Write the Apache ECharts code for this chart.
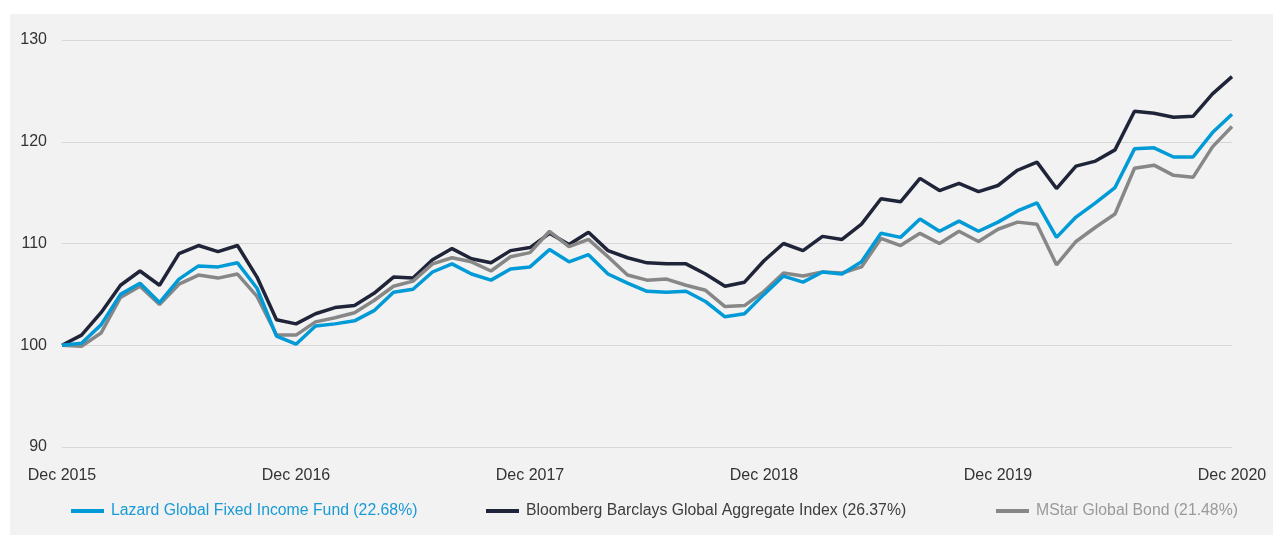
<!DOCTYPE html>
<html>
<head>
<meta charset="utf-8">
<script src="https://cdn.jsdelivr.net/npm/echarts@6/dist/echarts.min.js"></script>
<style>
html,body{margin:0;padding:0;background:#fff;}
#bg{position:absolute;left:10px;top:14px;width:1263px;height:521px;background:#f2f2f2;}
#chart{position:absolute;left:0;top:0;width:1273px;height:535px;}
</style>
</head>
<body>
<div id="bg"></div>
<div id="chart"></div>
<script>
const months = [
"Dec 2015","Jan 2016","Feb 2016","Mar 2016","Apr 2016","May 2016","Jun 2016","Jul 2016","Aug 2016","Sep 2016","Oct 2016","Nov 2016",
"Dec 2016","Jan 2017","Feb 2017","Mar 2017","Apr 2017","May 2017","Jun 2017","Jul 2017","Aug 2017","Sep 2017","Oct 2017","Nov 2017",
"Dec 2017","Jan 2018","Feb 2018","Mar 2018","Apr 2018","May 2018","Jun 2018","Jul 2018","Aug 2018","Sep 2018","Oct 2018","Nov 2018",
"Dec 2018","Jan 2019","Feb 2019","Mar 2019","Apr 2019","May 2019","Jun 2019","Jul 2019","Aug 2019","Sep 2019","Oct 2019","Nov 2019",
"Dec 2019","Jan 2020","Feb 2020","Mar 2020","Apr 2020","May 2020","Jun 2020","Jul 2020","Aug 2020","Sep 2020","Oct 2020","Nov 2020",
"Dec 2020"];

const yTicks = [90, 100, 110, 120, 130];

const lazardName = "Lazard Global Fixed Income Fund (22.68%)";
const bloombergName = "Bloomberg Barclays Global Aggregate Index (26.37%)";
const mstarName = "MStar Global Bond (21.48%)";

const lazard = [
100.0,100.2,102.0,105.0,106.1,104.2,106.5,107.8,107.7,108.1,105.6,100.9,
100.1,101.9,102.1,102.4,103.4,105.2,105.5,107.2,108.0,107.0,106.4,107.5,
107.7,109.4,108.2,108.9,107.0,106.1,105.3,105.2,105.3,104.3,102.8,103.1,
105.0,106.8,106.2,107.2,107.0,108.2,111.0,110.6,112.4,111.2,112.2,111.2,
112.1,113.2,114.0,110.6,112.6,114.0,115.5,119.3,119.4,118.5,118.5,120.9,
122.7];

const bloomberg = [
100.0,101.0,103.2,105.9,107.3,105.9,109.0,109.8,109.2,109.8,106.7,102.5,
102.1,103.1,103.7,103.9,105.1,106.7,106.6,108.4,109.5,108.5,108.1,109.3,
109.6,111.0,109.9,111.1,109.3,108.6,108.1,108.0,108.0,107.0,105.8,106.2,
108.3,110.0,109.3,110.7,110.4,111.9,114.4,114.1,116.4,115.2,115.9,115.1,
115.7,117.2,118.0,115.4,117.6,118.1,119.2,123.0,122.8,122.4,122.5,124.7,
126.4];

const mstar = [
100.0,99.9,101.2,104.7,105.8,104.0,106.0,106.9,106.6,107.0,104.8,101.0,
101.0,102.3,102.7,103.2,104.4,105.8,106.3,108.0,108.6,108.2,107.3,108.7,
109.1,111.2,109.7,110.4,108.7,106.9,106.4,106.5,105.9,105.4,103.8,103.9,
105.3,107.1,106.8,107.2,107.1,107.7,110.5,109.8,111.0,110.0,111.2,110.2,
111.4,112.1,111.9,107.9,110.2,111.6,112.9,117.4,117.7,116.7,116.5,119.5,
121.5];

const FONT = '"Liberation Sans", Arial, sans-serif';
const chart = echarts.init(document.getElementById('chart'), null, {renderer: 'canvas'});

function legendAt(name, left, color) {
  return {
    data: [name],
    left: left,
    top: 503,
    padding: 0,
    icon: 'rect',
    itemWidth: 33,
    itemHeight: 4,
    textStyle: {color: color, fontFamily: FONT, fontSize: 15.8, padding: [0, 0, 0, 2]},
    selectedMode: false
  };
}

chart.setOption({
  backgroundColor: 'transparent',
  animation: false,
  grid: {left: 62, right: 41, top: 40, bottom: 88, containLabel: false},
  legend: [
    legendAt(lazardName, 71, '#1a9ad6'),
    legendAt(bloombergName, 486, '#3d3d3d'),
    legendAt(mstarName, 996, '#9a9a9a')
  ],
  xAxis: {
    type: 'category',
    data: months,
    boundaryGap: false,
    axisLine: {show: false},
    axisTick: {show: false},
    axisLabel: {
      interval: function (i) { return i % 12 === 0; },
      color: '#333', fontFamily: FONT, fontSize: 16, margin: 21
    },
    splitLine: {show: false}
  },
  yAxis: {
    type: 'value',
    min: yTicks[0],
    max: yTicks[yTicks.length - 1],
    interval: 10,
    axisLine: {show: false},
    axisTick: {show: false},
    axisLabel: {color: '#333', fontFamily: FONT, fontSize: 16, margin: 15},
    splitLine: {lineStyle: {color: '#d6d6d6', width: 1}}
  },
  series: [
    {name: bloombergName, type: 'line', data: bloomberg, symbol: 'none',
     lineStyle: {color: '#1f2438', width: 3.5}, itemStyle: {color: '#1f2438'}, z: 2},
    {name: mstarName, type: 'line', data: mstar, symbol: 'none',
     lineStyle: {color: '#878787', width: 3.5}, itemStyle: {color: '#878787'}, z: 3},
    {name: lazardName, type: 'line', data: lazard, symbol: 'none',
     lineStyle: {color: '#009ad6', width: 3.5}, itemStyle: {color: '#009ad6'}, z: 4}
  ]
});
</script>
</body>
</html>
